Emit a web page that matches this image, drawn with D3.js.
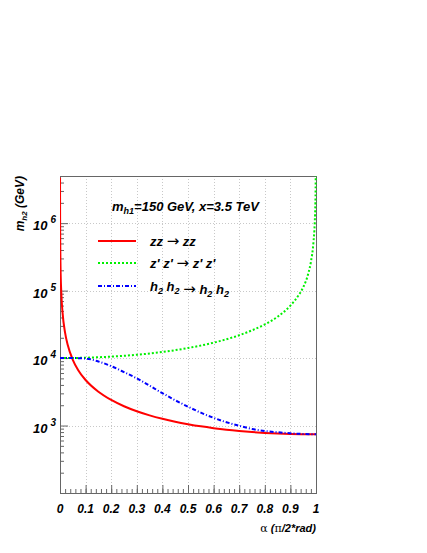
<!DOCTYPE html>
<html>
<head>
<meta charset="utf-8">
<script src="https://cdn.jsdelivr.net/npm/d3@7"></script>
<style>
  body { margin: 0; background: #fff; }
  text { font-family: "Liberation Sans", Arial, sans-serif; font-weight: bold; font-style: italic; fill: #000; }
</style>
</head>
<body>
<div id="chart"></div>
<script>
// alpha in units of pi/2 rad
const alphaZZ = [0.0001, 0.0002, 0.0005, 0.001, 0.002, 0.005, 0.01, 0.02, 0.03, 0.05, 0.07, 0.1, 0.15, 0.2, 0.25, 0.3, 0.35, 0.4, 0.45, 0.5, 0.55, 0.6, 0.65, 0.7, 0.75, 0.8, 0.85, 0.9, 0.95, 1.0];
const mZZ = [4700000, 2360000, 942000, 471000, 236000, 94200, 47100, 23600, 15700, 9430, 6740, 4730, 3170, 2395, 1934, 1630, 1416, 1259, 1139, 1047, 973, 915, 868, 831, 801, 778, 761, 749, 742, 740];

const alphaZpZp = [0, 0.1, 0.2, 0.3, 0.4, 0.5, 0.6, 0.65, 0.7, 0.75, 0.8, 0.85, 0.9, 0.93, 0.95, 0.97, 0.98, 0.99, 0.995, 0.998, 0.9995];
const mZpZp = [10000, 10120, 10510, 11200, 12300, 14100, 16900, 19000, 21800, 25800, 31500, 41000, 60000, 83000, 112000, 180000, 265000, 520000, 1000000, 2500000, 9000000];

const alphaHH = [0, 0.05, 0.1, 0.15, 0.2, 0.25, 0.3, 0.35, 0.4, 0.45, 0.5, 0.55, 0.6, 0.65, 0.7, 0.75, 0.8, 0.85, 0.9, 0.95, 1.0];
const mHH = [10000, 10000, 9850, 8900, 7600, 6200, 5000, 3890, 3020, 2370, 1905, 1550, 1300, 1120, 990, 890, 830, 795, 767, 750, 741];

const xMajor = [0, 0.1, 0.2, 0.3, 0.4, 0.5, 0.6, 0.7, 0.8, 0.9, 1];
const xLabels = ["0", "0.1", "0.2", "0.3", "0.4", "0.5", "0.6", "0.7", "0.8", "0.9", "1"];
const yDecades = [1e3, 1e4, 1e5, 1e6];
const yExponents = ["3", "4", "5", "6"];

const legendLabels = ["zz", "z' z'", "h2 h2"];

const W = 427, H = 553;
const L = 60, R = 316, T = 176, B = 493;

const svg = d3.select("#chart").append("svg")
  .attr("width", W).attr("height", H);

const x = d3.scaleLinear().domain([0, 1]).range([L, R]);
const y = d3.scaleLog().domain([100, 5e6]).range([B, T]);

// grid
svg.append("g").selectAll("line").data(xMajor.slice(1, -1)).join("line")
  .attr("x1", d => Math.round(x(d)) + 0.5).attr("x2", d => Math.round(x(d)) + 0.5)
  .attr("y1", T).attr("y2", B)
  .attr("stroke", "#c8c8c8").attr("stroke-width", 1).attr("stroke-dasharray", "1,2");
svg.append("g").selectAll("line").data(yDecades).join("line")
  .attr("x1", L).attr("x2", R)
  .attr("y1", d => Math.round(y(d)) + 0.5).attr("y2", d => Math.round(y(d)) + 0.5)
  .attr("stroke", "#c8c8c8").attr("stroke-width", 1).attr("stroke-dasharray", "1,2");

// minor values
let xMinor = d3.range(0, 51).map(i => i / 50);
let yMinor = [];
[100, 1000, 10000, 100000, 1000000].forEach(dec => {
  for (let k = 2; k <= 9; k++) { if (dec * k <= 5e6) yMinor.push(dec * k); }
});

// axes (ticks inside)
svg.append("g").attr("transform", "translate(0," + B + ")")
  .call(d3.axisBottom(x).tickValues(xMinor).tickSize(-4).tickFormat(""))
  .call(g => g.select(".domain").remove())
  .selectAll("line").attr("stroke", "#666");
svg.append("g").attr("transform", "translate(0," + B + ")")
  .call(d3.axisBottom(x).tickValues(xMajor).tickSize(-8).tickFormat(""))
  .call(g => g.select(".domain").remove())
  .selectAll("line").attr("stroke", "#666");
svg.append("g").attr("transform", "translate(" + L + ",0)")
  .call(d3.axisLeft(y).tickValues(yMinor).tickSize(-4).tickFormat(""))
  .call(g => g.select(".domain").remove())
  .selectAll("line").attr("stroke", "#666");
svg.append("g").attr("transform", "translate(" + L + ",0)")
  .call(d3.axisLeft(y).tickValues(yDecades).tickSize(-8).tickFormat(""))
  .call(g => g.select(".domain").remove())
  .selectAll("line").attr("stroke", "#666");

// frame
svg.append("rect")
  .attr("x", L + 0.5).attr("y", T + 0.5)
  .attr("width", R - L).attr("height", B - T)
  .attr("fill", "none").attr("stroke", "#666").attr("stroke-width", 1);

// x tick labels
svg.append("g").selectAll("text").data(xMajor).join("text")
  .attr("x", d => x(d)).attr("y", B + 20)
  .attr("text-anchor", "middle").style("font-size", "12px")
  .text((d, i) => xLabels[i]);

// y tick labels
const yl = svg.append("g").selectAll("text").data(yDecades).join("text")
  .attr("x", 33).attr("y", d => y(d) + 7)
  .style("font-size", "13px");
yl.append("tspan").text("10");
yl.append("tspan").attr("dx", 3).attr("dy", -7).style("font-size", "10px").text((d, i) => yExponents[i]);

// curves
svg.append("clipPath").attr("id", "plotclip")
  .append("rect").attr("x", L).attr("y", T).attr("width", R - L + 1).attr("height", B - T);
const line = d3.line().x(d => x(d[0])).y(d => y(d[1])).curve(d3.curveMonotoneX);
const plot = svg.append("g").attr("clip-path", "url(#plotclip)");

const zzColor = "#ff0000", zpColor = "#00f000", hhColor = "#0000ff";
const zpDash = "2,2", hhDash = "4,2,1,2";

plot.append("path").datum(d3.zip(alphaZZ, mZZ))
  .attr("d", line).attr("fill", "none")
  .attr("stroke", zzColor).attr("stroke-width", 2);
plot.append("path").datum(d3.zip(alphaZpZp, mZpZp))
  .attr("d", line).attr("fill", "none")
  .attr("stroke", zpColor).attr("stroke-width", 2).attr("stroke-dasharray", zpDash);
plot.append("path").datum(d3.zip(alphaHH, mHH))
  .attr("d", line).attr("fill", "none")
  .attr("stroke", hhColor).attr("stroke-width", 2).attr("stroke-dasharray", hhDash);

// legend
const head = svg.append("text").attr("x", 112).attr("y", 211).style("font-size", "13px");
head.append("tspan").text("m");
head.append("tspan").attr("dy", 3).style("font-size", "9px").text("h1");
head.append("tspan").attr("dy", -3).text("=150 GeV, x=3.5 TeV");

const legColors = [zzColor, zpColor, hhColor];
const legDash = [null, zpDash, hhDash];
const legY = [241, 263, 286];
legY.forEach((ly, i) => {
  svg.append("line").attr("x1", 98).attr("x2", 136).attr("y1", ly).attr("y2", ly)
    .attr("stroke", legColors[i]).attr("stroke-width", 2)
    .attr("stroke-dasharray", legDash[i]);
});

function arrow(tx) {
  tx.append("tspan").text(" ");
  tx.append("tspan").style("font-style", "normal").style("font-weight", "normal")
    .style("font-family", "'DejaVu Sans', sans-serif").style("font-size", "15px").text("\u2192");
  tx.append("tspan").text(" ");
}

function arrowText(t, ly, a, b, sub) {
  const tx = t.append("text").attr("x", 150).attr("y", ly + 5).style("font-size", "13px");
  if (sub) {
    tx.append("tspan").text("h");
    tx.append("tspan").attr("dy", 3).style("font-size", "9px").text("2");
    tx.append("tspan").attr("dy", -3).text(" h");
    tx.append("tspan").attr("dy", 3).style("font-size", "9px").text("2");
    tx.append("tspan").attr("dy", -3).text("");
    arrow(tx);
    tx.append("tspan").text("h");
    tx.append("tspan").attr("dy", 3).style("font-size", "9px").text("2");
    tx.append("tspan").attr("dy", -3).text(" h");
    tx.append("tspan").attr("dy", 3).style("font-size", "9px").text("2");
  } else {
    tx.append("tspan").text(a);
    arrow(tx);
    tx.append("tspan").text(b);
  }
}
arrowText(svg, legY[0], legendLabels[0], legendLabels[0], false);
arrowText(svg, legY[1], legendLabels[1], legendLabels[1], false);
arrowText(svg, legY[2], null, null, true);

// axis titles
const xt = svg.append("text").attr("x", R).attr("y", 532).attr("text-anchor", "end").style("font-size", "11px");
xt.append("tspan").style("font-style", "normal").style("font-weight", "normal").style("font-family", "'DejaVu Serif', serif").text("\u03b1");
xt.append("tspan").text(" (");
xt.append("tspan").style("font-style", "normal").style("font-weight", "normal").style("font-family", "'DejaVu Serif', serif").text("\u03c0");
xt.append("tspan").text("/2*rad)");

const ytl = svg.append("text").attr("transform", "translate(24," + T + ") rotate(-90)")
  .attr("text-anchor", "end").style("font-size", "12px");
ytl.append("tspan").text("m");
ytl.append("tspan").attr("dy", 3).style("font-size", "8px").text("h2");
ytl.append("tspan").attr("dy", -3).text(" (GeV)");
</script>
</body>
</html>
